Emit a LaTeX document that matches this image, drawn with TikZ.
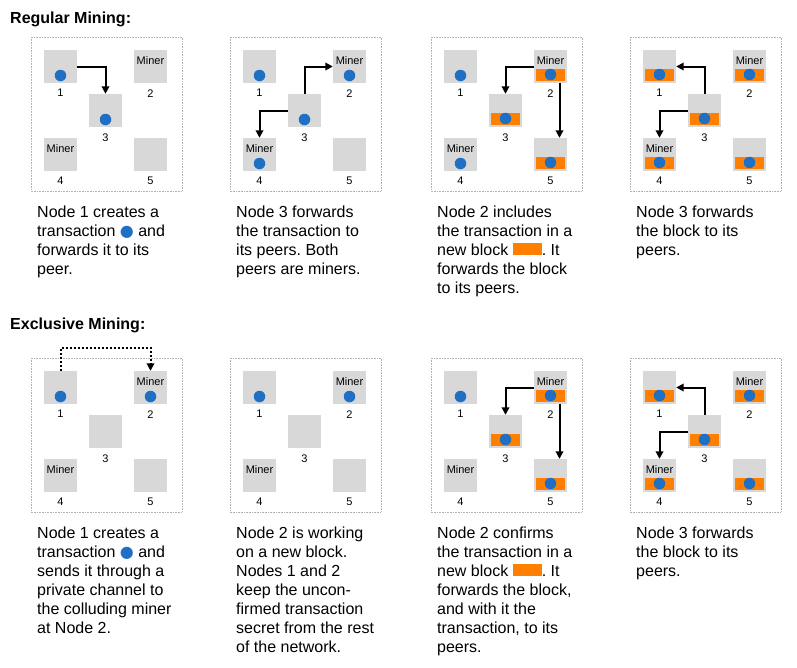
\documentclass[tikz,border=0pt]{standalone}
\usepackage{fontspec}
\setmainfont{Liberation Sans}
\newfontfamily\symfont{DejaVu Sans}
\usetikzlibrary{arrows.meta,positioning}
\definecolor{peergray}{RGB}{216,216,216}
\definecolor{txblue}{RGB}{31,112,196}
\definecolor{blkorange}{RGB}{255,128,0}
\newcommand{\txsym}{{\symfont\textcolor{txblue}{●}}}
\newcommand{\blksym}{\textcolor{blkorange}{\rule{29pt}{12pt}}}
\frenchspacing
\tikzset{
    >={Triangle[length=7.5pt,width=7.5pt]},
    panel/.style={draw=gray!60,densely dotted,line width=0.6pt},
    peer/.style={rectangle,fill=peergray,minimum size=33pt,inner sep=0pt},
    peernum/.style={inner sep=0pt,font=\fontsize{11}{13}\selectfont},
    minerlbl/.style={anchor=north,inner sep=0pt,font=\fontsize{11}{13}\selectfont},
    txdot/.style={circle,fill=txblue,minimum size=11.5pt,inner sep=0pt},
    blk/.style={rectangle,fill=blkorange,minimum width=29pt,minimum height=12pt,inner sep=0pt},
    fwd/.style={->,line width=2pt},
    priv/.style={->,line width=2pt,dotted},
    caption/.style={anchor=north west,align=left,inner sep=0pt,font=\fontsize{16}{19}\selectfont},
    heading/.style={anchor=base west,inner sep=0pt,font=\fontsize{16}{19}\selectfont\bfseries}
}
\begin{document}
\begin{tikzpicture}[x=1pt,y=-1pt]
    \useasboundingbox (0,0) rectangle (797,667);

    % Headings
    \node[heading] (reg) at (10,23.5) {Regular Mining:};
    \node[heading] (exc) at (10,329) {Exclusive Mining:};

    % Frames and peers, the same in every panel
    \foreach \p/\ox/\oy in {a/31/37,b/230/37,c/431/37,d/630/37,e/31/358,f/230/358,g/431/358,h/630/358}{
        \begin{scope}[shift={(\ox,\oy)}]
        \draw[panel] (0,0) rectangle (151,154);
        \foreach \i/\x/\y in {1/29.5/29.5,2/119.5/29.5,3/74.5/73.5,4/29.5/117.5,5/119.5/117.5}{
            \node[peer] (\p\i) at (\x,\y) {};
            \node[peernum,below=6pt of \p\i] (\p n\i) {\i};
        }
        \node[minerlbl] (\p2m) at ([yshift=-6.5pt]\p2.north) {Miner};
        \node[minerlbl] (\p4m) at ([yshift=-6.5pt]\p4.north) {Miner};
        \end{scope}
    }

    % Transactions
    \foreach \n in {a1,a3,b1,b2,b3,b4,c1,c4,e1,e2,f1,f2,g1}
        \node[txdot] (t\n) at ([yshift=-9pt]\n.center) {};

    % Blocks with the transaction
    \foreach \n in {c2,c3,c5,d1,d2,d3,d4,d5,g2,g3,g5,h1,h2,h3,h4,h5}{
        \node[blk] (k\n) at ([yshift=-8pt]\n.center) {};
        \node[txdot] (t\n) at (k\n) {};
    }

    % Regular mining
    \draw[fwd] (a1.east) -| (a3.north);
    \draw[fwd] (b3.north) |- (b2.west);
    \draw[fwd] (b3.west) -| (b4.north);
    \draw[fwd] (c2.west) -| (c3.north);
    \draw[fwd] ([xshift=9pt]c2.south) -- ([xshift=9pt]c5.north);
    \draw[fwd] (d3.north) |- (d1.east);
    \draw[fwd] (d3.west) -| (d4.north);

    % Exclusive mining
    \draw[priv] (e1.north) -- ++(0,-23) -| (e2.north);
    \draw[fwd] (g2.west) -| (g3.north);
    \draw[fwd] ([xshift=9pt]g2.south) -- ([xshift=9pt]g5.north);
    \draw[fwd] (h3.north) |- (h1.east);
    \draw[fwd] (h3.west) -| (h4.north);

    % Captions
    \node[caption] (capa) at (37,205.5) {Node 1 creates a\\transaction \txsym{} and\\forwards it to its\\peer.};
    \node[caption] (capb) at (236,205.5) {Node 3 forwards\\the transaction to\\its peers. Both\\peers are miners.};
    \node[caption] (capc) at (437,205.5) {Node 2 includes\\the transaction in a\\new block \blksym. It\\forwards the block\\to its peers.};
    \node[caption] (capd) at (636,205.5) {Node 3 forwards\\the block to its\\peers.};
    \node[caption] (cape) at (37,526.5) {Node 1 creates a\\transaction \txsym{} and\\sends it through a\\private channel to\\the colluding miner\\at Node 2.};
    \node[caption] (capf) at (236,526.5) {Node 2 is working\\on a new block.\\Nodes 1 and 2\\keep the uncon-\\firmed transaction\\secret from the rest\\of the network.};
    \node[caption] (capg) at (437,526.5) {Node 2 confirms\\the transaction in a\\new block \blksym. It\\forwards the block,\\and with it the\\transaction, to its\\peers.};
    \node[caption] (caph) at (636,526.5) {Node 3 forwards\\the block to its\\peers.};
\end{tikzpicture}
\end{document}
